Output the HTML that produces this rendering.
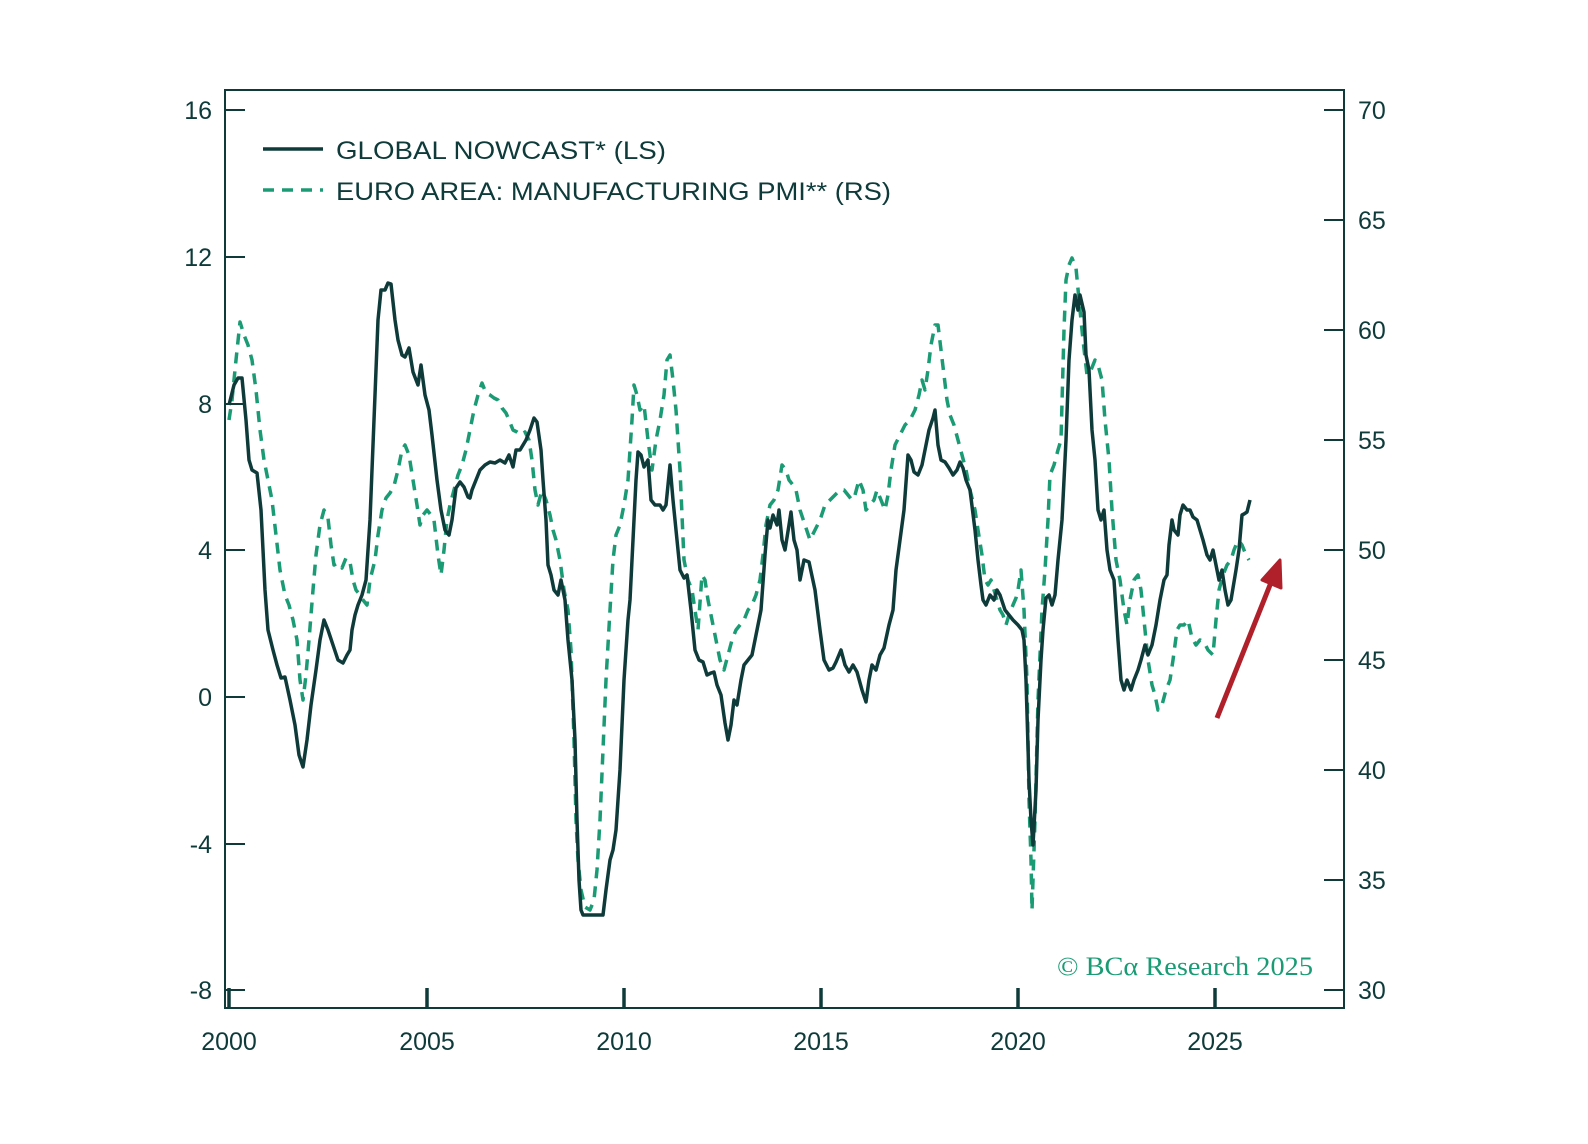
<!DOCTYPE html>
<html><head><meta charset="utf-8"><style>
html,body{margin:0;padding:0;background:#fff;}
svg{display:block;}
text{font-family:"Liberation Sans",sans-serif;fill:#0e3b3a;}
</style></head><body>
<svg width="1588" height="1144" viewBox="0 0 1588 1144" xmlns="http://www.w3.org/2000/svg">
<rect width="1588" height="1144" fill="#fff"/>
<g stroke="#0e3b3a" stroke-width="2" fill="none">
<rect x="225" y="90" width="1119" height="918"/>
<path d="M225 110h20M225 257h20M225 404h20M225 550h20M225 697h20M225 844h20M225 990h20"/>
<path d="M1324 110h20M1324 220h20M1324 330h20M1324 440h20M1324 550h20M1324 660h20M1324 770h20M1324 880h20M1324 990h20"/>
</g>
<g stroke="#0e3b3a" stroke-width="3.5" fill="none">
<path d="M229 1008v-20M427 1008v-20M624 1008v-20M821 1008v-20M1018 1008v-20M1215 1008v-20"/>
</g>
<g font-size="25" text-anchor="end">
<text x="212" y="119">16</text><text x="212" y="266">12</text><text x="212" y="413">8</text><text x="212" y="559">4</text><text x="212" y="706">0</text><text x="212" y="853">-4</text><text x="212" y="999">-8</text>
</g>
<g font-size="25">
<text x="1358" y="119">70</text><text x="1358" y="229">65</text><text x="1358" y="339">60</text><text x="1358" y="449">55</text><text x="1358" y="559">50</text><text x="1358" y="669">45</text><text x="1358" y="779">40</text><text x="1358" y="889">35</text><text x="1358" y="999">30</text>
</g>
<g font-size="25" text-anchor="middle">
<text x="229" y="1050">2000</text><text x="427" y="1050">2005</text><text x="624" y="1050">2010</text><text x="821" y="1050">2015</text><text x="1018" y="1050">2020</text><text x="1215" y="1050">2025</text>
</g>
<path d="M263 149h60" stroke="#0e3b3a" stroke-width="3.5"/>
<path d="M263 190h60" stroke="#1a9b73" stroke-width="3.5" stroke-dasharray="11 8"/>
<text x="336" y="159" font-size="25" textLength="330" lengthAdjust="spacingAndGlyphs">GLOBAL NOWCAST* (LS)</text>
<text x="336" y="200" font-size="25" textLength="555" lengthAdjust="spacingAndGlyphs">EURO AREA: MANUFACTURING PMI** (RS)</text>
<polyline fill="none" stroke="#1a9b73" stroke-width="3.5" stroke-dasharray="11 8" stroke-linejoin="round" points="229,420 232,400 236,360 240,322 244,335 248,345 252,360 256,390 260,430 264,460 268,480 272,500 276,535 280,570 285,595 289,605 293,620 297,640 300,680 303,700 306,675 309,640 313,590 316,555 320,525 324,510 328,518 331,545 334,565 338,563 342,568 346,558 350,562 353,580 356,590 360,595 363,600 367,605 370,580 375,560 378,535 382,510 386,498 390,493 394,486 398,470 402,450 405,445 409,455 413,480 417,505 420,525 423,515 427,510 431,515 434,520 438,555 441,575 444,550 447,520 450,505 454,490 458,475 462,465 466,450 470,430 474,410 478,395 482,383 486,393 490,395 494,398 498,400 502,408 506,413 509,420 513,430 517,432 521,435 525,432 529,440 532,460 535,490 538,505 542,490 546,500 550,515 553,530 556,540 560,560 564,590 568,610 571,650 574,740 576,820 578,860 581,890 585,907 590,910 594,900 597,870 600,820 603,750 606,680 610,610 613,560 616,535 620,525 624,505 628,480 632,420 634,385 637,395 640,410 644,405 648,440 652,470 656,440 660,420 664,395 667,360 670,355 673,380 676,410 680,470 684,560 688,580 692,590 695,610 698,630 702,575 705,580 708,600 712,620 716,640 720,660 724,670 728,655 732,640 736,630 740,625 744,620 748,610 752,605 756,595 760,580 763,555 766,525 770,505 774,500 778,490 782,465 786,470 789,480 793,485 796,490 800,510 805,525 810,540 815,530 820,520 825,505 830,500 835,495 840,490 844,490 848,495 852,500 855,495 859,480 863,490 866,510 870,505 874,500 877,490 881,500 885,510 888,495 891,470 895,445 900,435 905,425 910,420 915,410 919,395 922,380 925,390 928,370 931,345 935,325 938,325 941,350 944,375 947,400 950,415 954,425 958,440 962,455 966,470 970,490 975,510 978,530 982,555 985,580 988,585 991,580 994,590 997,600 1000,610 1003,615 1006,625 1009,615 1013,605 1016,598 1018,590 1021,570 1024,610 1027,680 1029,800 1031,860 1032,910 1035,820 1038,700 1042,610 1045,570 1048,520 1050,475 1054,465 1058,450 1061,440 1064,330 1066,280 1069,265 1072,258 1076,268 1080,310 1083,340 1087,375 1091,370 1095,360 1098,365 1102,380 1105,420 1109,460 1112,510 1116,560 1120,580 1124,610 1127,625 1130,600 1134,580 1138,575 1141,590 1144,620 1148,660 1152,685 1155,695 1158,710 1162,705 1166,690 1170,680 1173,660 1177,630 1180,625 1184,625 1188,620 1192,638 1196,645 1200,640 1204,642 1208,650 1213,655 1216,620 1219,590 1223,575 1227,565 1231,560 1234,550 1238,540 1242,545 1246,555 1249,560"/>
<polyline fill="none" stroke="#0e3b3a" stroke-width="3.5" stroke-linejoin="round" points="229,405 234,385 238,378 242,378 246,420 249,460 252,470 257,473 261,510 265,590 268,630 273,650 277,665 281,678 285,677 290,700 295,725 299,755 303,767 307,740 311,705 316,670 320,640 324,620 328,630 333,645 338,660 343,663 347,655 350,650 352,630 355,615 358,605 362,595 366,580 370,520 374,420 378,320 381,290 385,290 388,283 391,284 395,320 398,340 402,355 405,357 409,348 413,372 418,385 421,365 425,395 429,410 432,435 437,480 441,510 445,530 449,535 452,520 456,488 460,482 464,487 468,497 470,498 472,490 476,480 480,470 485,465 490,462 495,463 500,460 505,463 509,455 513,467 516,450 520,450 523,445 526,440 530,430 534,418 537,422 541,450 543,480 546,520 548,565 551,575 554,590 558,595 561,580 565,600 568,640 572,680 575,740 577,820 579,880 581,910 583,915 603,915 606,890 610,860 613,850 616,830 620,770 624,680 628,620 630,600 633,540 636,480 638,452 641,455 644,467 648,460 651,500 655,505 660,505 663,510 666,505 670,465 673,500 677,540 680,570 684,578 687,575 691,610 695,650 699,660 703,662 707,675 711,673 714,672 717,685 721,695 725,723 728,740 731,725 734,700 737,705 741,680 744,665 748,660 752,655 757,630 761,610 765,555 768,520 770,528 773,515 777,525 779,510 782,540 785,550 789,525 791,512 794,540 797,550 800,580 804,560 809,562 815,590 820,630 824,660 829,670 833,668 836,662 841,650 845,665 849,672 853,665 857,672 862,690 866,702 869,680 872,665 876,670 880,655 884,648 889,625 893,610 896,570 900,540 904,510 908,455 911,460 914,472 918,475 922,465 926,445 929,430 933,418 935,410 938,445 941,460 945,462 949,468 953,475 957,470 960,462 963,468 966,480 970,490 975,530 978,560 981,585 983,600 986,605 990,595 994,600 997,590 1000,595 1005,610 1009,615 1013,620 1018,625 1022,630 1024,640 1026,680 1029,780 1031,820 1033,845 1036,790 1038,720 1041,660 1043,630 1046,598 1049,595 1052,605 1055,595 1058,560 1062,520 1066,440 1069,360 1072,320 1075,295 1078,310 1080,295 1084,312 1086,355 1089,370 1092,430 1095,460 1098,510 1101,520 1104,510 1107,550 1110,570 1114,580 1118,640 1121,680 1124,690 1127,680 1131,690 1134,680 1138,670 1141,660 1145,645 1148,655 1152,645 1156,625 1160,600 1164,580 1167,575 1169,545 1172,520 1174,530 1178,535 1180,515 1183,505 1187,510 1190,510 1193,517 1197,520 1200,530 1203,540 1207,555 1210,560 1213,550 1216,565 1219,580 1222,570 1225,590 1228,605 1231,600 1236,570 1239,550 1242,515 1244,514 1247,512 1250,500"/>
<path d="M1217 718L1272 580" stroke="#b0202a" stroke-width="5" fill="none"/>
<path d="M1280 560L1281 588L1262 580Z" fill="#b0202a" stroke="#b0202a" stroke-width="3" stroke-linejoin="round"/>
<text x="1057" y="975" font-size="26" style="font-family:'Liberation Serif',serif;fill:#1a9b73" textLength="256" lengthAdjust="spacingAndGlyphs">© BCα Research 2025</text>
</svg>
</body></html>
